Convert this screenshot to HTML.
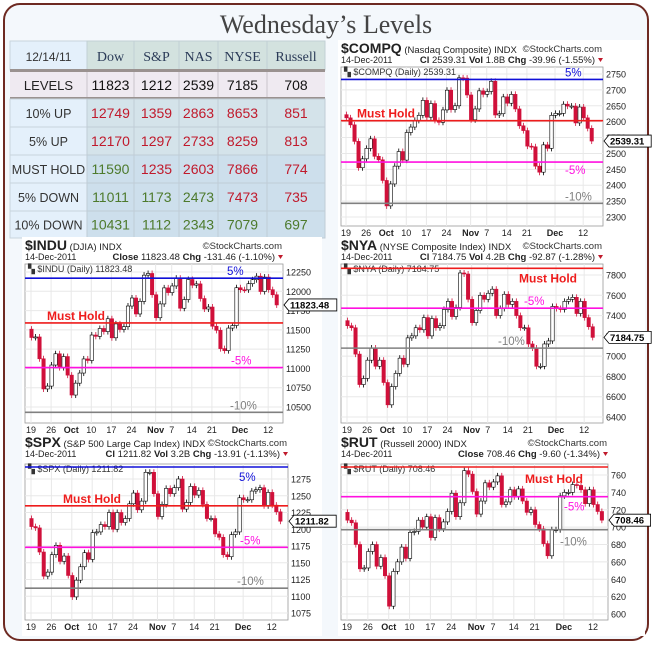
<!DOCTYPE html>
<html><head><meta charset="utf-8">
<style>
html,body{margin:0;padding:0;background:#fff;}
svg{display:block;font-family:"Liberation Sans",Arial,sans-serif;}
.serif{font-family:"Liberation Serif",serif;}
</style></head>
<body>
<svg id="root" width="653" height="647" viewBox="0 0 653 647" xmlns="http://www.w3.org/2000/svg">
<rect x="4" y="4" width="644" height="636" rx="16" fill="#f4f8fc" stroke="#6e2a22" stroke-width="2"/>
<text x="326" y="33" text-anchor="middle" class="serif" font-size="26" fill="#444">Wednesday’s Levels</text>
<g id="table"></g>
<g id="charts"></g>
</svg>
<script>
// ---- table data ----
const tblCols = ["Dow","S&P","NAS","NYSE","Russell"];
const tblRows = ["10% UP","5% UP","MUST HOLD","5% DOWN","10% DOWN"];
const tblLevels = ["11823","1212","2539","7185","708"];
const tblValues = [
 ["12749","1359","2863","8653","851"],
 ["12170","1297","2733","8259","813"],
 ["11590","1235","2603","7866","774"],
 ["11011","1173","2473","7473","735"],
 ["10431","1112","2343","7079","697"]];
const tblColors = [
 ["r","r","r","r","r"],["r","r","r","r","r"],["g","r","r","r","r"],["g","g","g","r","r"],["g","g","g","g","g"]];

// ---- chart data (daily closes, Sep 16 .. Dec 14 2011) ----
const xTickIdx = [1,6,11,16,21,26,32,36,41,46,53,60];
const xTickLabels = ["19","26","Oct","10","17","24","Nov","7","14","21","Dec","12"];
const compqClose = [2622,2612,2590,2538,2455,2483,2516,2546,2491,2480,2415,2335,2404,2460,2506,2479,2566,2583,2604,2620,2667,2614,2657,2604,2598,2637,2699,2638,2650,2738,2737,2684,2606,2640,2697,2686,2695,2727,2621,2625,2678,2658,2686,2640,2587,2572,2523,2521,2460,2441,2527,2516,2620,2626,2626,2655,2649,2649,2596,2646,2612,2579,2539];
const induClose = [11509,11401,11408,11125,10734,10771,11044,11190,11011,11154,10913,10655,10809,10940,11123,11103,11433,11416,11518,11478,11644,11397,11577,11505,11541,11809,11913,11706,11869,12209,12231,11955,11657,11836,12044,11983,12069,12170,11780,11893,12153,12079,12096,11906,11770,11796,11547,11494,11257,11231,11523,11556,12046,12020,12019,12098,12150,12196,11997,12184,12021,11955,11823];
const spxClose = [1216,1204,1202,1166,1130,1136,1162,1176,1152,1160,1131,1099,1124,1144,1165,1155,1195,1196,1207,1204,1225,1200,1225,1210,1216,1238,1254,1229,1242,1285,1285,1253,1219,1237,1261,1253,1262,1275,1230,1240,1264,1251,1258,1237,1216,1216,1193,1188,1162,1159,1192,1196,1247,1244,1244,1257,1259,1262,1235,1255,1236,1226,1212];
const nyaClose = [7350,7300,7280,7020,6720,6780,6960,7080,6900,6960,6740,6520,6700,6830,6980,6920,7180,7200,7280,7260,7380,7200,7370,7280,7300,7460,7540,7390,7480,7820,7810,7560,7330,7450,7600,7560,7620,7660,7400,7470,7610,7510,7540,7400,7280,7280,7120,7080,6900,6900,7120,7150,7490,7470,7460,7540,7560,7580,7420,7540,7380,7290,7185];
const rutClose = [717,708,705,680,652,653,672,680,655,665,644,609,649,660,677,664,694,695,708,700,712,688,711,698,706,718,739,712,728,765,761,741,715,730,751,746,752,759,726,729,743,735,744,730,717,720,703,698,681,667,697,697,736,740,740,749,748,743,727,743,726,718,708];
const compqTicks = [2300,2350,2400,2450,2500,2550,2600,2650,2700,2750];
const induTicks = [10500,10750,11000,11250,11500,11750,12000,12250];
const spxTicks = [1075,1100,1125,1150,1175,1200,1225,1250,1275];
const nyaTicks = [6400,6600,6800,7000,7200,7400,7600,7800];
const rutTicks = [600,620,640,660,680,700,720,740,760];
const compqLevels = [2733,2603,2473,2343];
const induLevels = [12170,11590,11011,10431];
const spxLevels = [1297,1235,1173,1112];
const nyaLevels = [8259,7866,7473,7079];
const rutLevels = [813,774,735,697];
const levelNames = ["5%","Must Hold","-5%","-10%"];

const NS="http://www.w3.org/2000/svg";
function el(tag, attrs, parent, txt){
  const e=document.createElementNS(NS,tag);
  for(const k in attrs) e.setAttribute(k,attrs[k]);
  if(txt!==undefined) e.textContent=txt;
  parent.appendChild(e); return e;
}

// ---- table ----
(function(){
  const g=document.getElementById('table');
  const colX=[10,87,134,179,218,267,325];
  const rowY=[41,70,99,127,155,183,211,238];
  let c=el('rect',{x:10,y:41,width:77,height:29,fill:'#e4f0fb',stroke:'#c8d4dc'},g);
  
  
  let t=el('text',{x:48.5,y:61,'text-anchor':'middle','font-size':12,fill:'#333'},g,"12/14/11");
  
  
  tblCols.forEach((n,i)=>{
    const r=el('rect',{x:colX[i+1],y:41,width:colX[i+2]-colX[i+1],height:29,fill:'#d3e2df',stroke:'#c2d0d4'},g);
    
    
    const tx=el('text',{x:(colX[i+1]+colX[i+2])/2,y:61,'text-anchor':'middle','font-size':14,fill:'#2b3b58','class':'serif'},g,n);
    
    
  });
  el('rect',{x:10,y:72,width:315,height:26,fill:'#efeaf1'},g);
  el('rect',{x:10,y:69,width:315,height:3,fill:'#9a9290'},g);
  el('rect',{x:10,y:97,width:315,height:3,fill:'#9a9290'},g);
  t=el('text',{x:48.5,y:90,'text-anchor':'middle','font-size':13,fill:'#222'},g,"LEVELS");
  
  
  tblLevels.forEach((v,i)=>{
    const tx=el('text',{x:(colX[i+1]+colX[i+2])/2,y:90,'text-anchor':'middle','font-size':14,fill:'#111'},g,v);
    
    
  });
  for(let i=1;i<6;i++) el('line',{x1:colX[i],y1:72,x2:colX[i],y2:97,stroke:'#c8c4cc'},g);
  tblRows.forEach((rn,ri)=>{
    const y0=rowY[ri+2], y1=rowY[ri+3];
    el('rect',{x:10,y:y0,width:77,height:y1-y0,fill:'#e4f0fb',stroke:'#c8d4dc'},g);
    const lt=el('text',{x:48.5,y:(y0+y1)/2+5,'text-anchor':'middle','font-size':12.5,fill:'#333'},g,rn);
    
    
    tblValues[ri].forEach((v,ci)=>{
      el('rect',{x:colX[ci+1],y:y0,width:colX[ci+2]-colX[ci+1],height:y1-y0,fill:ri<2?'#d4e3ea':'#cddfec',stroke:'#c0ccd6'},g);
      const tx=el('text',{x:(colX[ci+1]+colX[ci+2])/2,y:(y0+y1)/2+5,'text-anchor':'middle','font-size':14,fill:tblColors[ri][ci]=='r'?'#c01a2c':'#4d7a2c'},g,v);
      
      
    });
  });
})();

// ---- charts ----
const charts=[
 {name:'compq',sym:'$COMPQ',desc:'(Nasdaq Composite)',info:[['Cl',' 2539.31  '],['Vol',' 1.8B  '],['Chg',' -39.96 (-1.55%)']],last:'2539.31',data:compqClose,ticks:compqTicks,levels:compqLevels,
  px:338,py:40,pw:307,L:341,R:603,T:67,B:226,x1:346,dx:4.02,v0:2750,y0:74,v1:2300,y1:217,
  lab:[[565,-3],[357,-3],[565,12],[565,-3]]},
 {name:'indu',sym:'$INDU',desc:'(DJIA)',info:[['Close',' 11823.48  '],['Chg',' -131.46 (-1.10%)']],last:'11823.48',data:induClose,ticks:induTicks,levels:induLevels,
  px:22,py:237,pw:300,L:25,R:283,T:264,B:423,x1:31,dx:4.02,v0:12250,y0:272,v1:10500,y1:407,
  lab:[[227,-3],[47,-3],[231,-3],[230,-3]]},
 {name:'nya',sym:'$NYA',desc:'(NYSE Composite Index)',info:[['Cl',' 7184.75  '],['Vol',' 4.2B  '],['Chg',' -92.87 (-1.28%)']],last:'7184.75',data:nyaClose,ticks:nyaTicks,levels:nyaLevels,
  px:338,py:237,pw:307,L:341,R:603,T:264,B:423,x1:347,dx:4.02,v0:7800,y0:275,v1:6400,y1:417,
  lab:[[0,0],[519,14],[524,-3],[498,-3]]},
 {name:'spx',sym:'$SPX',desc:'(S&P 500 Large Cap Index)',info:[['Cl',' 1211.82  '],['Vol',' 3.2B  '],['Chg',' -13.91 (-1.13%)']],last:'1211.82',data:spxClose,ticks:spxTicks,levels:spxLevels,
  px:22,py:434,pw:300,L:25,R:288,T:464,B:620,x1:31,dx:4.08,v0:1275,y0:479,v1:1075,y1:613,
  lab:[[239,14],[63,-3],[240,-3],[237,-3]]},
 {name:'rut',sym:'$RUT',desc:'(Russell 2000)',info:[['Close',' 708.46  '],['Chg',' -9.60 (-1.34%)']],last:'708.46',data:rutClose,ticks:rutTicks,levels:rutLevels,
  px:338,py:434,pw:307,L:341,R:608,T:464,B:620,x1:347,dx:4.17,v0:760,y0:475,v1:600,y1:614,
  lab:[[0,0],[525,16],[564,14],[560,16]]}
];
const lvlColors=['#1010d8','#ee1c1c','#ff10e0','#808080'];

charts.forEach(c=>{
  const root=document.getElementById('charts');
  const g=el('g',{},root);
  
  
  const y=v=>c.y0+(v-c.v0)*(c.y1-c.y0)/(c.v1-c.v0);
  const x=i=>c.x1+(i-1)*c.dx;
  el('rect',{x:c.px,y:c.py,width:c.pw,height:c.B-c.py+16,fill:'#fff'},g);
  const h=el('text',{x:c.L,y:c.py+13,'font-size':9.5,fill:'#222'},g);
  el('tspan',{'font-size':14,'font-weight':'bold'},h,c.sym);
  el('tspan',{},h,' '+c.desc+'  INDX');
  
  
  const sc=el('text',{x:c.R-1,y:c.py+12,'font-size':9.5,'text-anchor':'end',fill:'#333'},g,'©StockCharts.com');
  
  
  const d=el('text',{x:c.L,y:c.py+23,'font-size':9,fill:'#222'},g,'14-Dec-2011');
  
  
  const inf=el('text',{x:c.R-8,y:c.py+23,'font-size':9.5,'text-anchor':'end',fill:'#222'},g);
  c.info.forEach(p=>{ el('tspan',{'font-weight':'bold'},inf,p[0]); el('tspan',{},inf,p[1]); });
  
  
  el('path',{d:`M${c.R-5},${c.py+18} l5,0 l-2.5,4z`,fill:'#c01a2c'},g);
  el('rect',{x:c.L,y:c.T,width:c.R-c.L,height:c.B-c.T,fill:'#fff',stroke:'#999','stroke-width':0.8},g);
  c.ticks.forEach(v=>{
    el('line',{x1:c.L,x2:c.R,y1:y(v),y2:y(v),stroke:'#e8e8e8'},g);
    const t=el('text',{x:c.R+3,y:y(v)+3.5,'font-size':9,fill:'#222'},g,String(v));
    
    
  });
  xTickIdx.forEach((ix,k)=>{
    el('line',{x1:x(ix),x2:x(ix),y1:c.T,y2:c.B,stroke:'#e8e8e8'},g);
    const bold=/[A-Za-z]/.test(xTickLabels[k]);
    const t=el('text',{x:x(ix),y:c.B+10,'font-size':9,'text-anchor':'middle',fill:'#222','font-weight':bold?'bold':'normal'},g,xTickLabels[k]);
    
    
  });
  const lg=el('text',{x:c.L+3,y:c.T+8,'font-size':9,fill:'#333'},g,'▚ '+c.sym+' (Daily) '+c.last);
  
  
  c.data.forEach((cl,i)=>{
    if(i===0) return;
    const op=c.data[i-1];
    const up=cl>=op;
    const yt=y(Math.max(op,cl)), yb=y(Math.min(op,cl));
    el('line',{x1:x(i)+0.5,x2:x(i)+0.5,y1:yt-3,y2:yb+3,stroke:up?'#000':'#d0103a','stroke-width':0.8},g);
    const r=el('rect',{x:x(i)-1.2,y:yt,width:3.4,height:Math.max(1,yb-yt),fill:up?'#fff':'#d0103a',stroke:up?'#000':'#d0103a','stroke-width':0.6},g);
    
    
  });
  c.levels.forEach((v,k)=>{
    const yy=y(v);
    if(yy<c.T-6||yy>c.B) return;
    const yl=Math.max(yy,c.T+3);
    const ln=el('line',{x1:c.L,x2:c.R,y1:yl,y2:yl,stroke:lvlColors[k],'stroke-width':1.6},g);
    
    
    const lb=el('text',{x:c.lab[k][0],y:yl+c.lab[k][1],'font-size':k==1?12:11.5,'font-weight':k==1?'bold':'normal',fill:lvlColors[k]},g,levelNames[k]);
    
    
  });
  const yl=y(c.data[c.data.length-1]);
  el('path',{d:`M${c.R+1},${yl} l5,-6 h${c.last.length*5.6+3} v12 h-${c.last.length*5.6+3}z`,fill:'#fff',stroke:'#000','stroke-width':0.8},g);
  const pt=el('text',{x:c.R+7,y:yl+3.5,'font-size':9.5,'font-weight':'bold',fill:'#000'},g,c.last);
  
  
});
</script>
</body></html>
